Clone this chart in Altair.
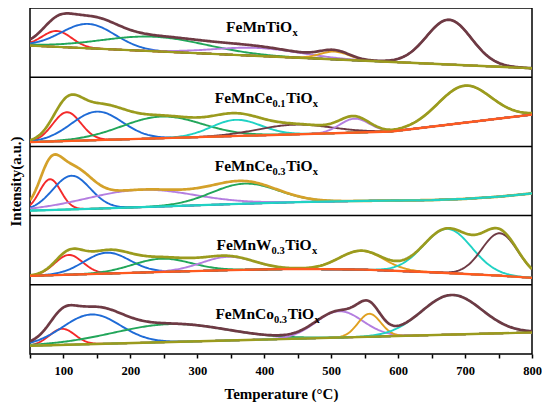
import numpy as np
import pandas as pd
import altair as alt

# ---------------- data ----------------
T_MIN, T_MAX = 50, 800
TICK_VALUES = list(range(50, 801, 50))

PANEL_LABELS = [
    [("FeMnTiO", "main"), ("x", "sub")],
    [("FeMnCe", "main"), ("0.1", "sub"), ("TiO", "main"), ("x", "sub")],
    [("FeMnCe", "main"), ("0.3", "sub"), ("TiO", "main"), ("x", "sub")],
    [("FeMnW", "main"), ("0.3", "sub"), ("TiO", "main"), ("x", "sub")],
    [("FeMnCo", "main"), ("0.3", "sub"), ("TiO", "main"), ("x", "sub")],
]

# Gaussian peak components (centre degC, height, sigma) per panel
P1_CENTER = [90, 137, 235, 390, 505, 676]
P1_HEIGHT = [16, 24.5, 14.6, 8, 7.8, 45]
P1_SIGMA = [22, 40, 78, 65, 22, 33.5]
P1_BASE_T = [50, 800]
P1_BASE_H = [31.7, 9.0]

P2_CENTER = [105, 150, 247, 358, 445, 535, 699]
P2_HEIGHT = [29, 28.7, 21.8, 16.3, 9.7, 14, 37.2]
P2_SIGMA = [21, 38, 60, 37, 55, 22, 39.5]
P2_BASE_T = [50, 590, 800]
P2_BASE_H = [4.3, 15, 32]

P3_CENTER = [80, 112, 215, 371]
P3_HEIGHT = [31, 33.8, 17.5, 20.2]
P3_SIGMA = [16, 28, 80, 50]
P3_BASE_T = [50, 150, 250, 350, 450, 550, 650, 700, 750, 800]
P3_BASE_H = [5, 7, 9.2, 11.5, 13.6, 14.8, 15.6, 16.8, 19, 22.3]

P4_CENTER = [108, 165, 247, 346, 545, 674, 752]
P4_HEIGHT = [19.8, 21, 13.3, 13.4, 19, 44.4, 42.6]
P4_SIGMA = [21, 34, 44, 40, 33, 36, 27]
P4_BASE_T = [50, 150, 250, 350, 450, 550, 650, 750, 800]
P4_BASE_H = [9, 11, 13, 14.8, 16, 15.2, 12.6, 9.3, 7]

P5_CENTER = [98, 142, 260, 512, 557, 680]
P5_HEIGHT = [16.2, 29.8, 18, 26.5, 23.1, 39.8]
P5_SIGMA = [19, 43, 85, 35, 17, 45]
P5_BASE_T = [50, 800]
P5_BASE_H = [8.3, 21.7]

# label anchor (degC, height above panel bottom)
LABEL_T = [343, 326, 326, 328.5, 327]
LABEL_H = [45.7, 43.3, 44.4, 34.7, 35.7]

# ---------------- styles ----------------
RED, BLUE, GREEN = "#f42a2a", "#1f6bd6", "#22a65a"
PURPLE, GOLD, CYAN = "#b47ee0", "#e0a020", "#20d2c4"
BROWN, OLIVE, ORANGE, GOLDSUM = "#6e3a44", "#9b9b1e", "#ff5a1f", "#d4a12a"

STYLE = [
    dict(comp=[RED, BLUE, GREEN, PURPLE, GOLD, BROWN], total=BROWN, base=OLIVE),
    dict(comp=[RED, BLUE, GREEN, CYAN, BROWN, PURPLE, OLIVE], total=OLIVE, base=ORANGE),
    dict(comp=[RED, BLUE, PURPLE, GREEN], total=GOLDSUM, base=CYAN),
    dict(comp=[RED, BLUE, GREEN, PURPLE, GOLD, CYAN, BROWN], total=OLIVE, base=ORANGE),
    dict(comp=[RED, BLUE, GREEN, PURPLE, GOLD, CYAN], total=BROWN, base=OLIVE),
]

PANELS = [
    (P1_CENTER, P1_HEIGHT, P1_SIGMA, P1_BASE_T, P1_BASE_H),
    (P2_CENTER, P2_HEIGHT, P2_SIGMA, P2_BASE_T, P2_BASE_H),
    (P3_CENTER, P3_HEIGHT, P3_SIGMA, P3_BASE_T, P3_BASE_H),
    (P4_CENTER, P4_HEIGHT, P4_SIGMA, P4_BASE_T, P4_BASE_H),
    (P5_CENTER, P5_HEIGHT, P5_SIGMA, P5_BASE_T, P5_BASE_H),
]

PANEL_H = 69.6
PANEL_PX = 69.2
N = len(PANELS)
FONT = "Liberation Serif"
MAIN_FS, SUB_FS, SUB_DY = 15.5, 10.5, 4
EM = {"F": .611, "e": .444, "M": .944, "n": .556, "C": .722, "T": .667, "i": .278,
      "O": .778, "W": 1.0, "o": .5, "0": .5, "1": .5, "3": .5, ".": .25, "x": .5}

grid = np.arange(T_MIN, T_MAX + 0.1, 2.0)
comp_rows, total_rows, base_rows = [], [], []
for k, (cen, hei, sig, bt, bh) in enumerate(PANELS):
    off = (N - 1 - k) * PANEL_H
    base = np.interp(grid, bt, bh)
    total = base.copy()
    for j, (c, h, s) in enumerate(zip(cen, hei, sig)):
        g = h * np.exp(-0.5 * ((grid - c) / s) ** 2)
        total = total + g
        for t, v in zip(grid, base + g):
            comp_rows.append(dict(T=t, y=off + v, cid=f"p{k}c{j}", col=STYLE[k]["comp"][j]))
    for t, v in zip(grid, total):
        total_rows.append(dict(T=t, y=off + v, cid=f"p{k}sum", col=STYLE[k]["total"]))
    for t, v in zip(bt, bh):
        base_rows.append(dict(T=t, y=off + v, cid=f"p{k}base", col=STYLE[k]["base"]))

df_comp = pd.DataFrame(comp_rows)
df_total = pd.DataFrame(total_rows)
df_base = pd.DataFrame(base_rows)
df_sep = pd.DataFrame({"y": [PANEL_H * i for i in range(1, N)]})

xscale = alt.Scale(domain=[T_MIN, T_MAX], nice=False, zero=False)
yscale = alt.Scale(domain=[0, PANEL_H * N], nice=False, zero=False)
X = alt.X("T:Q", scale=xscale, title="Temperature (°C)",
          axis=alt.Axis(values=TICK_VALUES, labelExpr="datum.value % 100 === 0 ? datum.label : ''",
                        grid=False, domain=False, tickSize=4, tickWidth=1.5, tickColor="black",
                        labelFont=FONT, labelFontWeight="bold", labelFontSize=12.5, labelColor="black",
                        labelPadding=6, labelFlush=False, titleFont=FONT, titleFontWeight="bold",
                        titleFontSize=15, titleColor="black", titlePadding=10))
Y = alt.Y("y:Q", scale=yscale, title="Intensity(a.u.)",
          axis=alt.Axis(labels=False, ticks=False, domain=False, grid=False, titleFont=FONT,
                        titleFontWeight="bold", titleFontSize=15, titleColor="black", titlePadding=7))

comp = alt.Chart(df_comp).mark_line(strokeWidth=1.9, clip=True).encode(
    x=X, y=Y, color=alt.Color("col:N", scale=None), detail="cid:N", order="T:Q")
tot = alt.Chart(df_total).mark_line(strokeWidth=2.7, clip=True).encode(
    x=X, y=Y, color=alt.Color("col:N", scale=None), detail="cid:N", order="T:Q")
bas = alt.Chart(df_base).mark_line(strokeWidth=2.3, clip=True).encode(
    x=X, y=Y, color=alt.Color("col:N", scale=None), detail="cid:N", order="T:Q")
sep = alt.Chart(df_sep).mark_rule(color="black", strokeWidth=1.5).encode(y=Y)

layers = [comp, tot, bas, sep]
for k, segs in enumerate(PANEL_LABELS):
    off = (N - 1 - k) * PANEL_H
    dx = 0.0
    for text, kind in segs:
        fs = MAIN_FS if kind == "main" else SUB_FS
        dy = 0 if kind == "main" else SUB_DY
        d = pd.DataFrame({"T": [LABEL_T[k]], "y": [off + LABEL_H[k]], "s": [text]})
        layers.append(alt.Chart(d).mark_text(
            align="left", baseline="alphabetic", font=FONT, fontWeight="bold",
            fontSize=fs, dx=dx, dy=dy, color="black").encode(x=X, y=Y, text="s:N"))
        dx += sum(EM.get(ch, .5) for ch in text) * fs + (0.6 if kind == "sub" else 0)

chart = alt.layer(*layers).properties(
    width=502, height=PANEL_PX * N,
    padding={"left": 0, "top": 0, "right": 0, "bottom": 0},
    background="white",
).configure_view(stroke="black", strokeWidth=1.5)

chart.save("out.html", embed_options={"renderer": "svg", "actions": False})
